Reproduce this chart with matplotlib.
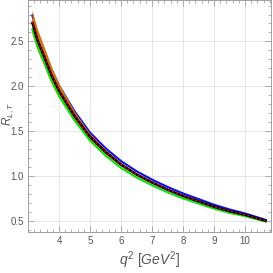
import numpy as np
import matplotlib
matplotlib.use("Agg")
import matplotlib.pyplot as plt
from matplotlib.ticker import MultipleLocator

# data ----------------------------------------------------------------------
q2 = [3.13, 3.3, 3.5, 3.75, 4.0, 4.5, 5.0, 5.5, 6.0, 6.5, 7.0, 7.5, 8.0, 8.5, 9.0, 9.5, 10.0, 10.5, 10.7]
r_mid = [2.72, 2.52, 2.35, 2.13, 1.95, 1.67, 1.44, 1.27, 1.13, 1.02, 0.93, 0.85, 0.78, 0.72, 0.66, 0.61, 0.57, 0.52, 0.50]
# offsets of the blue / green curves above and below the centre
d_blue = [0.08, 0.075, 0.07, 0.065, 0.06, 0.052, 0.046, 0.042, 0.038, 0.035, 0.032, 0.03, 0.028, 0.025, 0.022, 0.019, 0.015, 0.011, 0.009]
d_green = [0.075, 0.07, 0.066, 0.062, 0.058, 0.05, 0.045, 0.041, 0.038, 0.035, 0.032, 0.03, 0.028, 0.025, 0.022, 0.019, 0.015, 0.011, 0.009]
# half width of the orange band
d_orange = [0.13, 0.12, 0.11, 0.095, 0.08, 0.05, 0.035, 0.025, 0.02, 0.015, 0.012, 0.01, 0.01, 0.01, 0.008, 0.008, 0.006, 0.005, 0.005]

x_ticks = [4, 5, 6, 7, 8, 9, 10]
y_ticks = [0.5, 1.0, 1.5, 2.0, 2.5]
# ---------------------------------------------------------------------------

q2 = np.array(q2)
r_mid = np.array(r_mid)
r_blue = r_mid + np.array(d_blue)
r_green = r_mid - np.array(d_green)
o_hi = r_mid + np.array(d_orange)
o_lo = r_mid - np.array(d_orange)

plt.rcParams['font.family'] = ['Liberation Sans Narrow', 'Liberation Sans', 'DejaVu Sans']
plt.rcParams['mathtext.fontset'] = 'custom'
plt.rcParams['mathtext.it'] = 'Liberation Sans:italic'
plt.rcParams['mathtext.rm'] = 'Liberation Sans'

fig = plt.figure(figsize=(2.73, 2.73), dpi=100)
ax = fig.add_axes([0.1026, 0.1502, 0.8901, 0.8480])

ax.plot(q2, r_blue, color='#1010e0', lw=1.5, solid_capstyle='butt', zorder=2)
ax.fill_between(q2, o_lo, o_hi, color='#d2711a', lw=0, zorder=3)
ax.plot(q2, r_green, color='#10e010', lw=1.5, solid_capstyle='butt', zorder=4)
ax.plot(q2, r_mid, color='black', lw=1.8, solid_capstyle='butt', zorder=5)
ax.plot(q2, r_mid, color='#cc1010', lw=1.0, ls=(0, (1.5, 1.5)), zorder=6)

ax.set_xlim(3.0, 10.84)
ax.set_ylim(0.378, 2.956)
ax.set_xticks(x_ticks)
ax.set_yticks(y_ticks)
ax.set_yticklabels([f"{v:.1f}" for v in y_ticks])
ax.xaxis.set_minor_locator(MultipleLocator(0.2))
ax.yaxis.set_minor_locator(MultipleLocator(0.1))

ax.grid(True, which='major', color='#e6e6e6', lw=0.7, zorder=0)
ax.set_axisbelow(True)
for s in ax.spines.values():
    s.set_color('#a0a0a0')
    s.set_linewidth(0.7)
ax.tick_params(which='both', direction='in', top=True, right=True, color='#a0a0a0',
               labelsize=7, labelcolor='#555555', width=0.6, pad=3)
ax.tick_params(which='major', length=4)
ax.tick_params(which='minor', length=2)

ax.set_xlabel(r'$q^2\ \mathrm{[}GeV^2\mathrm{]}$', fontsize=10, color='#555555', labelpad=2)
fig.text(8 / 273, 1 - 114 / 273, r'$R_{L,T}$', fontsize=8.5, color='#555555',
         rotation=90, ha='center', va='center')

fig.savefig('out.png', dpi=100)
